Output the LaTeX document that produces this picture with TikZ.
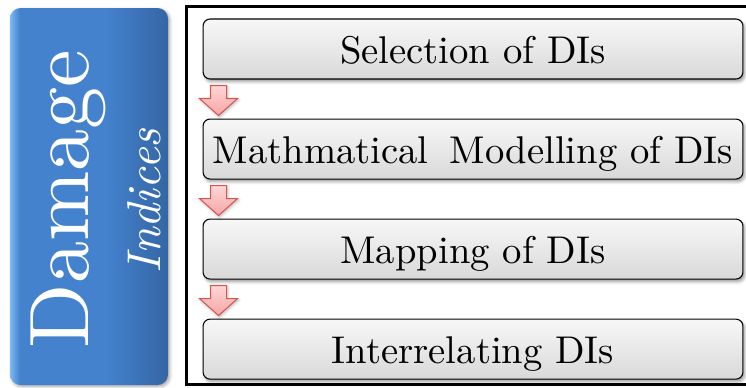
\documentclass[tikz,border=0pt]{standalone}
\usepackage{fontspec}
\setmainfont{lmroman10}[Extension=.otf, UprightFont=*-regular, ItalicFont=*-italic]
\usetikzlibrary{positioning, calc, shadows.blur}
\usepackage{xcolor}
\definecolor{azulclaro}{RGB}{125, 185, 240}
\definecolor{azul}{RGB}{68, 130, 206}
\definecolor{azuloscuro}{RGB}{52, 102, 164}
\definecolor{rojoflecha}{RGB}{214, 86, 80}
\definecolor{rosa}{RGB}{255, 214, 214}
\definecolor{rosaoscuro}{RGB}{246, 165, 165}
\pgfdeclarehorizontalshading{barra}{100bp}{color(0bp)=(azulclaro); color(25bp)=(azulclaro);
  color(28bp)=(azul); color(55bp)=(azul); color(75bp)=(azuloscuro); color(100bp)=(azuloscuro)}

\tikzset{
  paso/.style={draw=black, line width=0.6pt, rounded corners=4pt,
    top color=gray!6, bottom color=gray!30,
    minimum width=10.8cm, minimum height=1.2cm, inner sep=0pt,
    text height=16pt, text depth=0pt, font=\fontsize{22}{26}\selectfont,
    blur shadow={shadow xshift=1pt, shadow yshift=-1.5pt, shadow opacity=40}},
  flecha/.style={draw=rojoflecha, line width=0.6pt, top color=rosa, bottom color=rosaoscuro,
    blur shadow={shadow xshift=0.6pt, shadow yshift=-0.8pt, shadow opacity=30}}
}

\begin{document}
\begin{tikzpicture}[x=0.02cm, y=-0.02cm]
    \useasboundingbox (0,0) rectangle (746,387);

    % Barra lateral
    \shade[shading=barra, rounded corners=6pt,
      blur shadow={shadow xshift=1pt, shadow yshift=-1pt, shadow opacity=35}] (10,8) rectangle (168,385);
    \node[rotate=90, anchor=base, text=white, font=\fontsize{48}{48}\selectfont] (damage) at (88,199) {Damage};
    \node[rotate=90, anchor=base, text=white, font=\fontsize{27}{30}\selectfont\itshape] (indices) at (160,201) {Indices};

    % Marco
    \draw[line width=1.8pt] (186.5,6.5) rectangle (760,384.5);

    % Pasos
    \node[paso] (s1) at (473,49) {Selection of DIs};
    \node[paso, below=0.78cm of s1] (s2) {Mathmatical\hspace{0.55em}Modelling of DIs};
    \node[paso, below=0.78cm of s2] (s3) {Mapping of DIs};
    \node[paso, below=0.78cm of s3] (s4) {Interrelating DIs};

    % Flechas
    \foreach \a/\b in {s1/s2, s2/s3, s3/s4}
        \draw[flecha] ($(\a.south west)+(8,6)$) -- ($(\a.south west)+(24,6)$)
            -- ($(\b.north west)+(24,-20)$) -- ($(\b.north west)+(35,-20)$)
            -- ($(\b.north west)+(16,-3)$) -- ($(\b.north west)+(-3,-20)$)
            -- ($(\b.north west)+(8,-20)$) -- cycle;
\end{tikzpicture}
\end{document}
